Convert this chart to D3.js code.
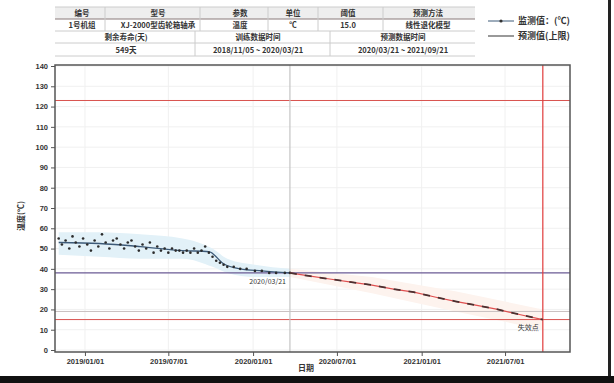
<!DOCTYPE html>
<html>
<head>
<meta charset="utf-8">
<script src="https://cdn.jsdelivr.net/npm/d3@7"></script>
<style>
  html, body { margin: 0; padding: 0; background: #fff; }
  svg { display: block; font-family: "Noto Sans CJK SC", "DejaVu Sans", sans-serif; }
</style>
</head>
<body>
<div id="container"></div>
<script>
const width = 614, height = 383;

// --- Data ---
const obsDates = ["2018-11-05","2018-11-12","2018-11-20","2018-11-28","2018-12-05","2018-12-12","2018-12-20","2018-12-28",
  "2019-01-06","2019-01-14","2019-01-22","2019-01-30","2019-02-07","2019-02-15","2019-02-23","2019-03-03",
  "2019-03-11","2019-03-19","2019-03-27","2019-04-04","2019-04-12","2019-04-20","2019-04-28","2019-05-06",
  "2019-05-14","2019-05-22","2019-05-30","2019-06-07","2019-06-15","2019-06-23","2019-07-01","2019-07-09",
  "2019-07-17","2019-07-25","2019-08-02","2019-08-10","2019-08-18","2019-08-26","2019-09-03","2019-09-11",
  "2019-09-19","2019-09-27","2019-10-05","2019-10-13","2019-10-21","2019-10-29","2019-11-06","2019-11-20",
  "2019-12-04","2019-12-18","2020-01-05","2020-01-20","2020-02-05","2020-02-20","2020-03-10","2020-03-21"];
const obsValues = [55,52,54,50,56,53,51,55, 52,49,54,51,57,53,50,54, 55,52,50,53,54,51,49,52,
  50,53,48,51,49,50,48,50, 49,49,48,49,48,50,48,49, 51,48,46,44,43,42,41,41, 40,40,39,39,38,38,38,38];

// smoothed trend through the observations
const trendDates = ["2018-11-05","2019-02-01","2019-05-01","2019-08-01","2019-09-27","2019-10-29","2019-12-04","2020-01-20","2020-03-21"];
const trendValues = [53,52.5,51,49,48.5,42.5,40,39,38];

const bandDates = ["2018-11-05","2019-02-01","2019-05-01","2019-08-01","2019-10-05","2019-11-06","2020-01-05","2020-03-21"];
const bandLow   = [47,46,45,45,41,38,36,36];
const bandHigh  = [58,58,57,55,50,45,42,40];

const predDates = ["2020-03-21","2020-05-01","2020-06-15","2020-08-01","2020-09-15","2020-11-01","2020-12-15",
  "2021-02-01","2021-03-15","2021-05-01","2021-06-15","2021-08-01","2021-09-21"];
const predValues = [38,36.5,35,33.5,32,30,28.5,26,24,22,20,17.5,15];

const predBandDates = ["2020-03-21","2020-09-15","2021-03-15","2021-09-21"];
const predBandLow  = [36,28,19,10];
const predBandHigh = [40,36,29,20];

const upperLimit = 123;
const warnLimit = 38;
const refLimit = 19;
const failLimit = 15;
const nowDate = "2020-03-21";
const endDate = "2021-09-21";

const xTicks = ["2019-01-01","2019-07-01","2020-01-01","2020-07-01","2021-01-01","2021-07-01"];
const yTicks = [0,10,20,30,40,50,60,70,80,90,100,110,120,130,140];

const tableHead1 = ["编号","型号","参数","单位","阈值","预测方法"];
const tableRow1  = ["1号机组","XJ-2000型齿轮箱轴承","温度","℃","15.0","线性退化模型"];
const tableHead2 = ["剩余寿命(天)","训练数据时间","预测数据时间"];
const tableRow2  = ["549天","2018/11/05 ~ 2020/03/21","2020/03/21 ~ 2021/09/21"];

const legendLabels = ["监测值：(℃)","预测值(上限)"];

// --- Layout ---
const plot = { left: 55, right: 570, top: 65, bottom: 352 };
const parse = d3.timeParse("%Y-%m-%d");
const fmt = d3.timeFormat("%Y/%m/%d");

const svg = d3.select("#container").append("svg")
  .attr("width", width).attr("height", height);

const x = d3.scaleTime()
  .domain([parse("2018-10-28"), parse("2021-11-19")])
  .range([plot.left, plot.right]);
const y = d3.scaleLinear().domain([0, 140]).range([350, 66]);

// --- Grid ---
const grid = svg.append("g");
yTicks.forEach(v => {
  grid.append("line")
    .attr("x1", plot.left).attr("x2", plot.right)
    .attr("y1", y(v)).attr("y2", y(v))
    .attr("stroke", "#f0f0f0").attr("stroke-width", 1);
});
xTicks.forEach(d => {
  grid.append("line")
    .attr("x1", x(parse(d))).attr("x2", x(parse(d)))
    .attr("y1", plot.top).attr("y2", plot.bottom)
    .attr("stroke", "#f0f0f0").attr("stroke-width", 1);
});

// --- Bands ---
const band = bandDates.map((d, i) => ({ d: parse(d), lo: bandLow[i], hi: bandHigh[i] }));
svg.append("path").datum(band)
  .attr("fill", "#e2f1f8")
  .attr("d", d3.area().x(p => x(p.d)).y0(p => y(p.lo)).y1(p => y(p.hi)).curve(d3.curveMonotoneX));

const pband = predBandDates.map((d, i) => ({ d: parse(d), lo: predBandLow[i], hi: predBandHigh[i] }));
svg.append("path").datum(pband)
  .attr("fill", "#fdf3ee")
  .attr("d", d3.area().x(p => x(p.d)).y0(p => y(p.lo)).y1(p => y(p.hi)));

// --- Reference lines ---
const hline = (v, color, w) => svg.append("line")
  .attr("x1", plot.left).attr("x2", plot.right)
  .attr("y1", y(v)).attr("y2", y(v))
  .attr("stroke", color).attr("stroke-width", w);
hline(upperLimit, "#d9534f", 1);
hline(warnLimit, "#6b5b95", 1.2);
hline(refLimit, "#c9c0c0", 1);
hline(failLimit, "#d9534f", 1);

svg.append("line")
  .attr("x1", x(parse(nowDate))).attr("x2", x(parse(nowDate)))
  .attr("y1", plot.top).attr("y2", plot.bottom)
  .attr("stroke", "#c4c4c4").attr("stroke-width", 1.2);
svg.append("line")
  .attr("x1", x(parse(endDate))).attr("x2", x(parse(endDate)))
  .attr("y1", plot.top).attr("y2", plot.bottom)
  .attr("stroke", "#e03c3c").attr("stroke-width", 1.2);

// --- Observed data ---
const trend = trendDates.map((d, i) => ({ d: parse(d), v: trendValues[i] }));
svg.append("path").datum(trend)
  .attr("fill", "none").attr("stroke", "#3d5a78").attr("stroke-width", 1.3)
  .attr("d", d3.line().x(p => x(p.d)).y(p => y(p.v)).curve(d3.curveMonotoneX));
const obs = obsDates.map((d, i) => ({ d: parse(d), v: obsValues[i] }));
svg.selectAll("circle.obs").data(obs).join("circle")
  .attr("class", "obs")
  .attr("cx", p => x(p.d)).attr("cy", p => y(p.v))
  .attr("r", 1.3).attr("fill", "#2b2b2b");

// --- Prediction ---
const pred = predDates.map((d, i) => ({ d: parse(d), v: predValues[i] }));
const predLine = d3.line().x(p => x(p.d)).y(p => y(p.v));
svg.append("path").datum(pred)
  .attr("fill", "none").attr("stroke", "#e05050").attr("stroke-width", 1.2)
  .attr("d", predLine);
svg.append("path").datum(pred)
  .attr("fill", "none").attr("stroke", "#4a3030").attr("stroke-width", 1.8)
  .attr("stroke-dasharray", "7,8")
  .attr("d", predLine);

// --- Annotations ---
svg.append("text")
  .attr("x", x(parse(nowDate)) - 4).attr("y", y(warnLimit) + 11)
  .attr("text-anchor", "end").attr("fill", "#333").style("font-size", "7px")
  .text(fmt(parse(nowDate)));
svg.append("text")
  .attr("x", x(parse(endDate)) - 4).attr("y", y(failLimit) + 10)
  .attr("text-anchor", "end").attr("fill", "#333").style("font-size", "7px")
  .text("失效点");

// --- Frame ---
svg.append("rect")
  .attr("x", plot.left).attr("y", plot.top)
  .attr("width", plot.right - plot.left).attr("height", plot.bottom - plot.top)
  .attr("fill", "none").attr("stroke", "#555").attr("stroke-width", 1.5);

// --- Axes ---
const yAxis = svg.append("g")
  .attr("transform", `translate(${plot.left},0)`)
  .call(d3.axisLeft(y).tickValues(yTicks).tickSize(4));
yAxis.select(".domain").remove();
yAxis.selectAll("line").attr("stroke", "#555");
yAxis.selectAll("text").attr("fill", "#333").style("font-size", "7.5px").style("font-weight", "bold");

const xAxis = svg.append("g")
  .attr("transform", `translate(0,${plot.bottom})`)
  .call(d3.axisBottom(x).tickValues(xTicks.map(parse)).tickFormat(fmt).tickSize(4));
xAxis.select(".domain").remove();
xAxis.selectAll("line").attr("stroke", "#555");
xAxis.selectAll("text").attr("fill", "#333").style("font-size", "7.5px").style("font-weight", "bold");

svg.append("text")
  .attr("x", 306).attr("y", 371)
  .attr("text-anchor", "middle").attr("fill", "#333")
  .style("font-size", "8px").style("font-weight", "bold").text("日期");

svg.append("text")
  .attr("transform", "rotate(-90)")
  .attr("x", -216).attr("y", 24)
  .attr("text-anchor", "middle").attr("fill", "#333")
  .style("font-size", "8px").style("font-weight", "bold")
  .text("温度(℃)");

// --- Table ---
const tb = svg.append("g");
const tcol = "#333";
tb.append("rect").attr("x", 55).attr("y", 7).attr("width", 420).attr("height", 12).attr("fill", "#eeeeee");
[7, 19, 31, 43, 56].forEach(yy => {
  tb.append("line").attr("x1", 55).attr("x2", 475).attr("y1", yy).attr("y2", yy)
    .attr("stroke", yy === 19 ? "#8a7a7a" : "#cccccc").attr("stroke-width", 1);
});
[105, 200, 268, 318, 383].forEach(xx => {
  tb.append("line").attr("x1", xx).attr("x2", xx).attr("y1", 7).attr("y2", 31)
    .attr("stroke", "#cccccc");
});
[195, 330].forEach(xx => {
  tb.append("line").attr("x1", xx).attr("x2", xx).attr("y1", 31).attr("y2", 56)
    .attr("stroke", "#cccccc");
});
const c1 = [82, 158, 240, 293, 348, 428];
tableHead1.forEach((s, i) => tb.append("text").attr("x", c1[i]).attr("y", 16)
  .attr("text-anchor", "middle").attr("fill", tcol).style("font-size", "7.5px").style("font-weight", "bold").text(s));
tableRow1.forEach((s, i) => tb.append("text").attr("x", c1[i]).attr("y", 28)
  .attr("text-anchor", "middle").attr("fill", tcol).style("font-size", "7.5px").style("font-weight", "bold").text(s));
const c2 = [126, 258, 403];
tableHead2.forEach((s, i) => tb.append("text").attr("x", c2[i]).attr("y", 40)
  .attr("text-anchor", "middle").attr("fill", tcol).style("font-size", "7.5px").style("font-weight", "bold").text(s));
tableRow2.forEach((s, i) => tb.append("text").attr("x", c2[i]).attr("y", 53)
  .attr("text-anchor", "middle").attr("fill", tcol).style("font-size", "7.5px").style("font-weight", "bold").text(s));

// --- Legend ---
const lg = svg.append("g");
lg.append("line").attr("x1", 488).attr("x2", 514).attr("y1", 21).attr("y2", 21)
  .attr("stroke", "#3d5a78").attr("stroke-width", 1);
lg.append("circle").attr("cx", 501).attr("cy", 21).attr("r", 1.6).attr("fill", "#333");
lg.append("line").attr("x1", 488).attr("x2", 514).attr("y1", 36).attr("y2", 36)
  .attr("stroke", "#555").attr("stroke-width", 1.2);
legendLabels.forEach((s, i) => lg.append("text")
  .attr("x", 518).attr("y", 24 + i * 15)
  .attr("fill", "#333").style("font-size", "9px").style("font-weight", "bold").text(s));

// --- Screen edges ---
svg.append("rect").attr("x", 608).attr("y", 0).attr("width", 3).attr("height", 376).attr("fill", "#222");
svg.append("rect").attr("x", 0).attr("y", 376).attr("width", width).attr("height", 7).attr("fill", "#111");
</script>
</body>
</html>
